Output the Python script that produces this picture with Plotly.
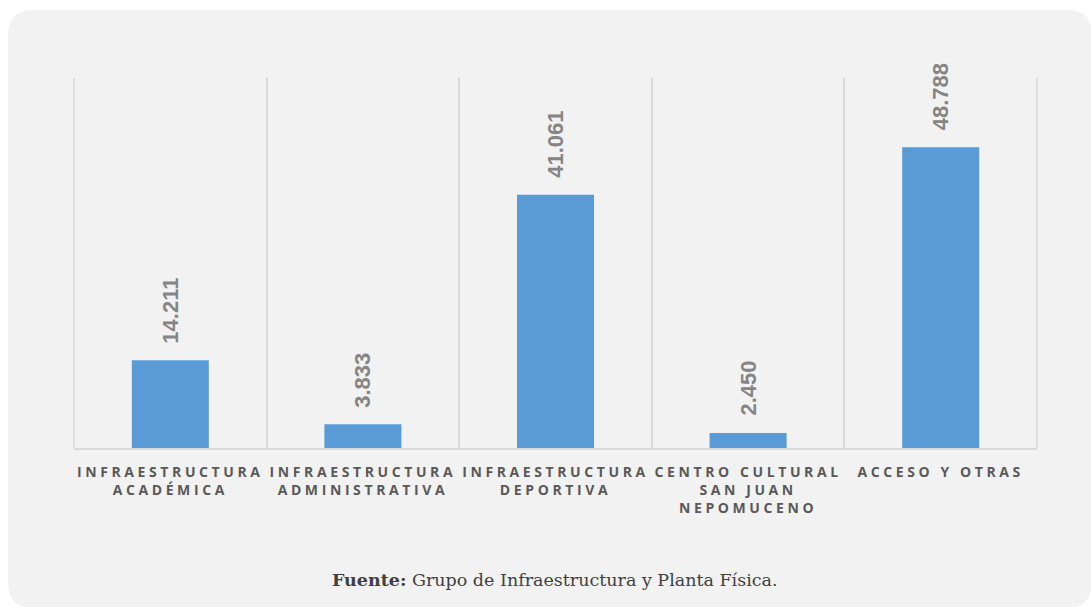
import plotly.graph_objects as go

# categories and values
categorias = [
    "INFRAESTRUCTURA<br>ACADÉMICA",
    "INFRAESTRUCTURA<br>ADMINISTRATIVA",
    "INFRAESTRUCTURA<br>DEPORTIVA",
    "CENTRO CULTURAL<br>SAN JUAN<br>NEPOMUCENO",
    "ACCESO Y OTRAS",
]
valores = [14211, 3833, 41061, 2450, 48788]
fuente = "<b>Fuente:</b> Grupo de Infraestructura y Planta Física."

W, H = 1091, 607
L, R, T, B = 74, 54, 78, 159
pw, ph = W - L - R, H - T - B


def px(x):
    return (x - L) / pw


def py(y):
    return (H - B - y) / ph


fig = go.Figure()
fig.add_trace(go.Bar(
    x=categorias,
    y=valores,
    marker=dict(color="#5b9bd5", line=dict(width=0)),
    hoverinfo="skip",
))

# value labels, rotated, above each bar
for c, v in zip(categorias, valores):
    fig.add_annotation(
        x=c, y=v, xref="x", yref="y",
        text=f"{v:,}".replace(",", "."),
        textangle=-90, showarrow=False,
        yanchor="bottom", yshift=15,
        font=dict(family="Liberation Sans", size=22, color="#858585", weight="bold"),
    )

fig.add_annotation(
    x=px(555), y=py(592), xref="paper", yref="paper",
    text=fuente, showarrow=False,
    font=dict(family="DejaVu Serif", size=17.5, color="#3f3f3f"),
)

# rounded background panel
x0, x1, y0, y1, r = px(8), px(1092), py(10), py(608), 26
rx, ry = r / pw, r / ph
path = (
    f"M {x0 + rx},{y0} L {x1 - rx},{y0} Q {x1},{y0} {x1},{y0 - ry} "
    f"L {x1},{y1 + ry} Q {x1},{y1} {x1 - rx},{y1} "
    f"L {x0 + rx},{y1} Q {x0},{y1} {x0},{y1 + ry} "
    f"L {x0},{y0 - ry} Q {x0},{y0} {x0 + rx},{y0} Z"
)
fig.add_shape(type="path", path=path, xref="paper", yref="paper",
              fillcolor="#f2f2f2", line=dict(width=0), layer="below")
# outer grid lines at the first and last category boundary
for xe in (0, 1):
    fig.add_shape(type="line", x0=xe, x1=xe, y0=0, y1=1, xref="paper", yref="paper",
                  line=dict(color="#d9d9d9", width=1.5), layer="below")

fig.update_layout(
    width=W, height=H,
    margin=dict(l=L, r=R, t=T, b=B),
    paper_bgcolor="white",
    plot_bgcolor="rgba(0,0,0,0)",
    bargap=0.6,
    showlegend=False,
    xaxis=dict(
        tickson="boundaries",
        showgrid=True, gridcolor="#d9d9d9", gridwidth=1.5,
        showline=True, linecolor="#d9d9d9", linewidth=1.5,
        ticks="", tickangle=0, ticklabelstandoff=10,
        tickfont=dict(family="Open Sans", size=14, color="#595959", weight="bold"),
        fixedrange=True,
    ),
    yaxis=dict(
        range=[0, 60000],
        showgrid=False, zeroline=False, showticklabels=False,
        fixedrange=True,
    ),
)

# no page margin, letter spacing on the category labels
post = """
document.body.style.margin = '0';
var gd = document.getElementById('{plot_id}');
function sp(){
  gd.querySelectorAll('.xtick text').forEach(function(t){
    t.style.letterSpacing = '3.6px';
  });
}
sp();
gd.on('plotly_afterplot', sp);
"""

fig.write_html("out.html", post_script=post, config={"displayModeBar": False})
